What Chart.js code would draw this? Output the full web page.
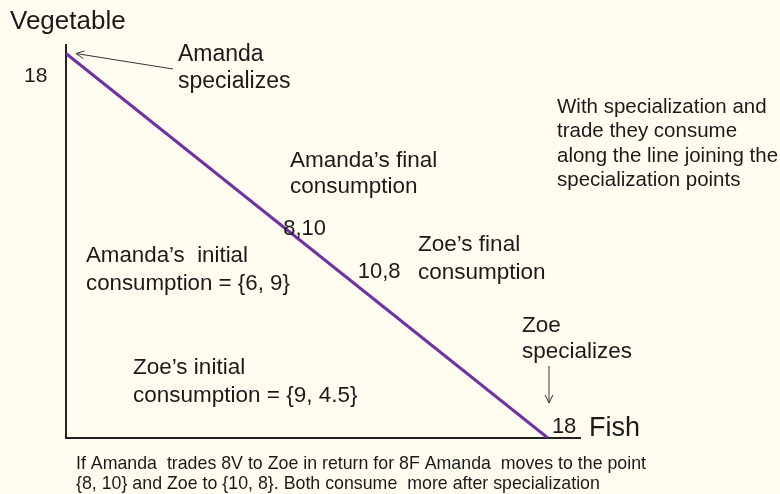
<!DOCTYPE html>
<html lang="en">
<head>
    <meta charset="UTF-8">
    <title>Specialization and trade</title>
    <style>
        html, body { margin: 0; padding: 0; background: #fffdf0; }
        #wrap { width: 780px; height: 494px; }
    </style>
</head>
<body>
    <div id="wrap">
        <canvas id="myChart" width="780" height="494"></canvas>
    </div>

    <script src="https://cdn.jsdelivr.net/npm/chart.js"></script>

    <script>
        // production possibility line: Fish (x) vs Vegetable (y)
        const fishEnds = [0, 18]
        const vegEnds = [18, 0]
        // consumption points after trade
        const tradeFish = [8, 10]
        const tradeVeg = [10, 8]
        const tradeLabels = ['8,10', '10,8']
        const axisMax = 18

        const ink = '#1a1a1a'
        const font = 'Arial, "Liberation Sans", sans-serif'

        function arrow(ctx, x1, y1, x2, y2) {
            const a = Math.atan2(y2 - y1, x2 - x1)
            ctx.beginPath()
            ctx.moveTo(x1, y1)
            ctx.lineTo(x2, y2)
            ctx.moveTo(x2 - 9 * Math.cos(a - 0.45), y2 - 9 * Math.sin(a - 0.45))
            ctx.lineTo(x2, y2)
            ctx.lineTo(x2 - 9 * Math.cos(a + 0.45), y2 - 9 * Math.sin(a + 0.45))
            ctx.stroke()
        }

        function text(ctx, str, x, y, size) {
            ctx.font = size + 'px ' + font
            ctx.fillText(str, x, y)
        }

        const notes = {
            id: 'notes',
            afterDraw(chart) {
                const ctx = chart.ctx
                const xs = chart.scales.x, ys = chart.scales.y
                ctx.save()
                ctx.fillStyle = ink
                ctx.textBaseline = 'alphabetic'

                // axis names and end values
                text(ctx, 'Vegetable', 10, 29, 26)
                text(ctx, '18', 24, 82, 21)
                text(ctx, '18', xs.getPixelForValue(axisMax) + 4, 433, 22)
                text(ctx, 'Fish', 589, 436, 27)

                // specialization points
                text(ctx, 'Amanda', 178, 61, 23)
                text(ctx, 'specializes', 178, 88, 23)
                text(ctx, 'Zoe', 522, 332, 22.5)
                text(ctx, 'specializes', 522, 358, 22.5)

                text(ctx, 'With specialization and', 557, 113, 20.5)
                text(ctx, 'trade they consume', 557, 137, 20.5)
                text(ctx, 'along the line joining the', 557, 162, 20.5)
                text(ctx, 'specialization points', 557, 186, 20.5)

                text(ctx, 'Amanda\u2019s final', 290, 167, 22.5)
                text(ctx, 'consumption', 290, 193, 22.5)
                text(ctx, 'Zoe\u2019s final', 418, 251, 22.5)
                text(ctx, 'consumption', 418, 279, 22.5)

                text(ctx, 'Amanda\u2019s  initial', 86, 262, 22.3)
                text(ctx, 'consumption = {6, 9}', 86, 290, 22.3)
                text(ctx, 'Zoe\u2019s initial', 133, 374, 22.5)
                text(ctx, 'consumption = {9, 4.5}', 133, 402, 22.5)

                // labels at the traded points
                const offs = [[3, 11], [24, 11]]
                tradeLabels.forEach((lab, i) => {
                    const px = xs.getPixelForValue(tradeFish[i])
                    const py = ys.getPixelForValue(tradeVeg[i])
                    text(ctx, lab, px + offs[i][0], py + offs[i][1], 22)
                })

                ctx.font = '17.8px ' + font
                ctx.fillText('If Amanda  trades 8V to Zoe in return for 8F Amanda  moves to the point', 76, 469, 570)
                ctx.fillText('{8, 10} and Zoe to {10, 8}. Both consume  more after specialization', 76, 489, 528)

                // arrows
                ctx.strokeStyle = '#333'
                ctx.lineWidth = 1
                arrow(ctx, 173, 69, xs.getPixelForValue(0) + 10, ys.getPixelForValue(axisMax))
                arrow(ctx, 549, 366, 549, 403)
                ctx.restore()
            }
        }

        new Chart(document.getElementById('myChart'), {
            type: 'scatter',
            data: {
                datasets: [{
                    data: fishEnds.map((f, i) => ({ x: f, y: vegEnds[i] })),
                    showLine: true,
                    borderColor: '#6f31a4',
                    borderWidth: 3,
                    pointRadius: 0
                }]
            },
            options: {
                responsive: false,
                animation: false,
                layout: { padding: { left: 66, right: 200, top: 45, bottom: 56 } },
                plugins: { legend: { display: false }, tooltip: { enabled: false } },
                scales: {
                    x: {
                        min: 0, max: 19.2,
                        grid: { display: false, drawTicks: false },
                        ticks: { display: false },
                        border: { display: true, color: '#222', width: 2 }
                    },
                    y: {
                        min: 0, max: 18.4,
                        grid: { display: false, drawTicks: false },
                        ticks: { display: false },
                        border: { display: true, color: '#222', width: 2 }
                    }
                }
            },
            plugins: [notes]
        });
    </script>
</body>
</html>
